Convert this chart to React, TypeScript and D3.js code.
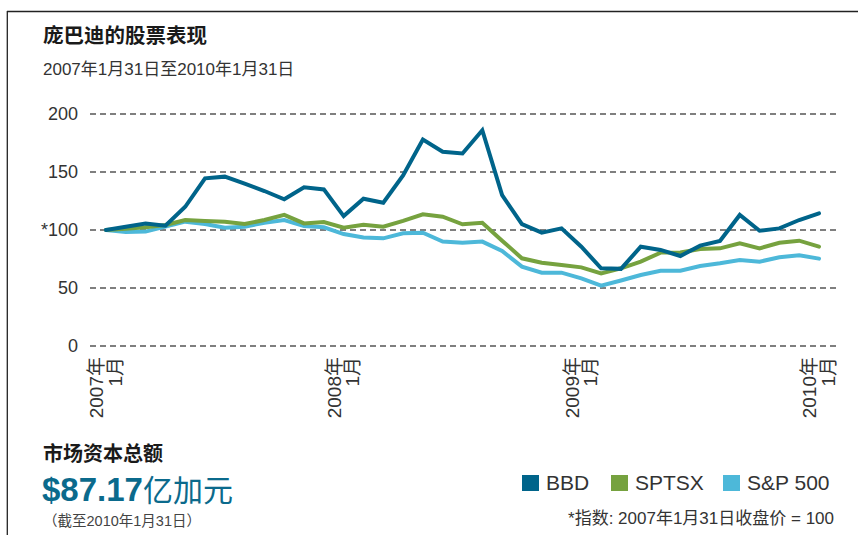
import React from "react";
import * as d3 from "d3";

const months: string[] = Array.from({ length: 37 }, (_, i) => {
  const y = 2007 + Math.floor(i / 12);
  const m = (i % 12) + 1;
  return `${y}-${String(m).padStart(2, "0")}`;
});

const bbd: number[] = [
  100, 102.8, 105.5, 103.7, 120, 144.5, 146, 140, 133.6, 126.5, 136.8, 135,
  112, 127, 123.5, 147, 178, 167.5, 166, 186, 130, 105, 97.7, 101.4,
  85.6, 67, 66.5, 85.6, 82.8, 77.6, 86.5, 90.5, 113, 99.4, 101.4, 108.6, 114.4,
];
const sptsx: number[] = [
  100, 101, 102.3, 104.3, 108.6, 107.8, 107.2, 105.2, 108.6, 113, 105.7, 106.9,
  102, 104.5, 102.9, 107.8, 113.5, 111.5, 104.9, 106.3, 90.8, 75.6, 71.8, 69.8,
  67.8, 62.6, 67, 72.7, 80.5, 80.7, 83.6, 84.2, 88.5, 84.2, 89, 90.8, 85.6,
];
const sp500: number[] = [
  100, 98.3, 98.6, 102.9, 107.2, 105.2, 102, 102.9, 106.3, 108.6, 103.4, 102.3,
  96.5, 93.5, 92.8, 97.1, 97.7, 90, 89, 90, 81.9, 68.4, 63.2, 63.2,
  58.3, 52, 56.5, 61.2, 64.9, 64.9, 69, 71.3, 74.1, 72.7, 76.5, 78.2, 75.3,
];

const yTicks: number[] = [0, 50, 100, 150, 200];
const yTickLabels: string[] = ["0", "50", "*100", "150", "200"];
const xTickIdx: number[] = [0, 12, 24, 36];
const xTickYears: string[] = ["2007年", "2008年", "2009年", "2010年"];
const xTickMonth = "1月";

const seriesNames: string[] = ["BBD", "SPTSX", "S&P 500"];
const seriesColors: string[] = ["#00648a", "#76a23f", "#4db8d9"];

const FONT = "'Liberation Sans', Arial, 'Noto Sans CJK SC', sans-serif";

export default function App() {
  const W = 858;
  const H = 535;
  const x = d3.scaleLinear().domain([0, months.length - 1]).range([106, 819]);
  const y = d3.scaleLinear().domain([0, 200]).range([346, 114]);
  const line = d3
    .line<number>()
    .x((_, i) => x(i))
    .y((d) => y(d))
    .curve(d3.curveLinear);

  const allSeries = [bbd, sptsx, sp500];
  const drawOrder = [2, 1, 0];
  const legendX = [522, 611, 723];

  return (
    <svg
      width={W}
      height={H}
      style={{ position: "absolute", left: 0, top: 0, background: "#fff" }}
      fontFamily={FONT}
    >
      <rect x={0} y={0} width={W} height={H} fill="#fff" />
      {/* frame */}
      <line x1={7} y1={11.5} x2={W} y2={11.5} stroke="#222" strokeWidth={1.3} />
      <line x1={7.3} y1={11} x2={7.3} y2={H} stroke="#222" strokeWidth={1.3} />

      {/* title */}
      <text x={43} y={43} fontSize={20.5} fontWeight="bold" fill="#1a1a1a">
        庞巴迪的股票表现
      </text>
      <text x={43} y={75} fontSize={17} fill="#333">
        2007年1月31日至2010年1月31日
      </text>

      {/* grid */}
      {yTicks.map((t, i) => (
        <g key={t}>
          <line
            x1={90}
            x2={836}
            y1={y(t)}
            y2={y(t)}
            stroke="#555"
            strokeWidth={1.3}
            strokeDasharray="6,4"
          />
          <text
            x={78}
            y={y(t)}
            dy="0.35em"
            textAnchor="end"
            fontSize={18}
            fill="#333"
          >
            {yTickLabels[i]}
          </text>
        </g>
      ))}

      {/* x labels */}
      {xTickIdx.map((idx, i) => (
        <g key={idx} transform={`translate(${x(idx)},357) rotate(-90)`}>
          <text x={0} y={-2.7} textAnchor="end" fontSize={19} fill="#333">
            {xTickYears[i]}
          </text>
          <text x={0} y={15.7} textAnchor="end" fontSize={19} fill="#333">
            {xTickMonth}
          </text>
        </g>
      ))}

      {/* lines */}
      {drawOrder.map((k) => (
        <path
          key={k}
          d={line(allSeries[k]) || ""}
          fill="none"
          stroke={seriesColors[k]}
          strokeWidth={4}
          strokeLinejoin="miter"
          strokeLinecap="round"
        />
      ))}

      {/* market cap */}
      <text x={43} y={461} fontSize={20} fontWeight="bold" fill="#1a1a1a">
        市场资本总额
      </text>
      <text x={42} y={501} fill="#0b6a8c">
        <tspan fontSize={33} fontWeight="bold">$87.17</tspan>
        <tspan fontSize={30}>亿加元</tspan>
      </text>
      <text x={43} y={526} fontSize={14.5} fill="#444">
        （截至2010年1月31日）
      </text>

      {/* legend */}
      {seriesNames.map((n, i) => (
        <g key={n}>
          <rect x={legendX[i]} y={475} width={17} height={16} fill={seriesColors[i]} />
          <text x={legendX[i] + 24} y={490} fontSize={21} fill="#333">
            {n}
          </text>
        </g>
      ))}
      <text x={834} y={524} textAnchor="end" fontSize={17} fill="#333">
        *指数: 2007年1月31日收盘价 = 100
      </text>
    </svg>
  );
}
